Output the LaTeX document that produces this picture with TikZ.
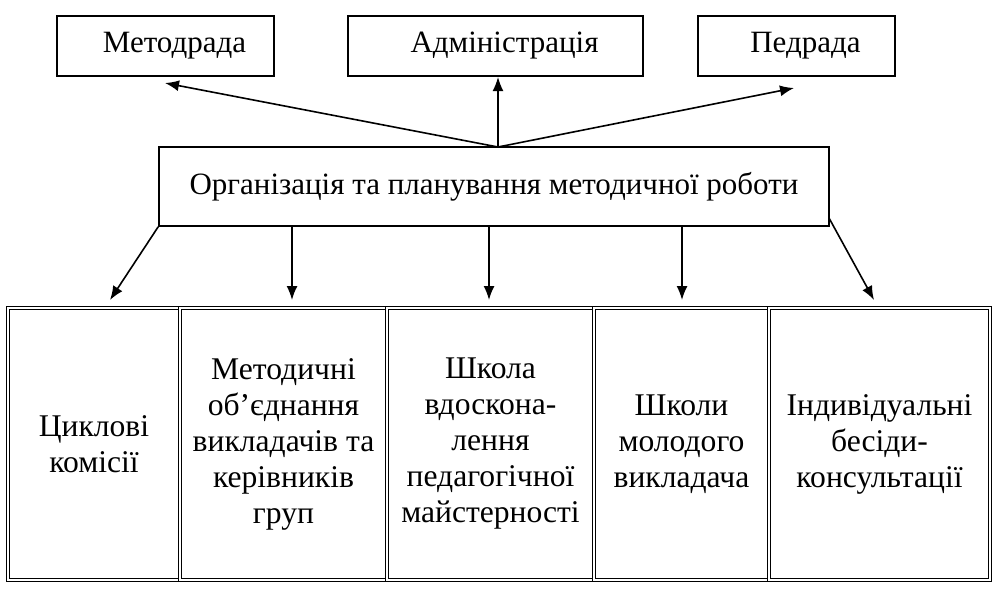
\documentclass[tikz,border=0pt]{standalone}
\usepackage{fontspec}
\setmainfont{Liberation Serif}
\usetikzlibrary{arrows.meta}

\tikzset{
  box/.style={draw, line width=0.8pt, inner sep=0pt, minimum height=30pt, font=\fontsize{15.5}{19}\selectfont},
  cell/.style={draw, double, line width=0.45pt, double distance=0.7pt, inner sep=0pt, minimum height=136pt, align=center, font=\fontsize{15.8}{18}\selectfont},
  arr/.style={line width=0.8pt, -{Latex[length=7pt,width=5.5pt]}}
}

\begin{document}
\begin{tikzpicture}[x=0.5pt,y=-0.5pt]
\useasboundingbox (0,0) rectangle (1000,591);
% top row
\node[box, minimum width=108.5pt] (metod) at (165.5,46) {\hspace*{9pt}Методрада};
\node[box, minimum width=147.5pt] (admin) at (495.5,46) {\hspace*{9pt}Адміністрація};
\node[box, minimum width=98.5pt] (pedrada) at (796.5,46) {\hspace*{9pt}Педрада};
% middle
\node[box, minimum width=335pt, minimum height=39.5pt] (org) at (494,186.5) {Організація та планування методичної роботи};
% bottom row
\node[cell, minimum width=86pt] (cikl) at (94,444) {Циклові\\комісії};
\node[cell, minimum width=103.5pt] (mo) at (283.5,444) {Методичні\\об’єднання\\викладачів та\\керівників\\груп};
\node[cell, minimum width=103.5pt] (shkola) at (490.5,444) {Школа\\вдоскона-\\лення\\педагогічної\\майстерності};
\node[cell, minimum width=87.5pt] (molod) at (681.5,444) {Школи\\молодого\\викладача};
\node[cell, minimum width=110.5pt] (indiv) at (879.5,444) {Індивідуальні\\бесіди-\\консультації};
% arrow ends
\coordinate (hub) at (498,147);
\coordinate (t1) at (165,83);
\coordinate (t2) at (498,77);
\coordinate (t3) at (794,88);
\coordinate (b1) at (110,300);
\coordinate (b2) at (292,300);
\coordinate (b3) at (489,300);
\coordinate (b4) at (682,300);
\coordinate (b5) at (874,300);
\coordinate (r) at (829,218);
\draw[arr] (hub) -- (t1);
\draw[arr] (hub) -- (t2);
\draw[arr] (hub) -- (t3);
\draw[arr] (org.south west) -- (b1);
\draw[arr] (b2 |- org.south) -- (b2);
\draw[arr] (b3 |- org.south) -- (b3);
\draw[arr] (b4 |- org.south) -- (b4);
\draw[arr] (r) -- (b5);
\end{tikzpicture}
\end{document}
